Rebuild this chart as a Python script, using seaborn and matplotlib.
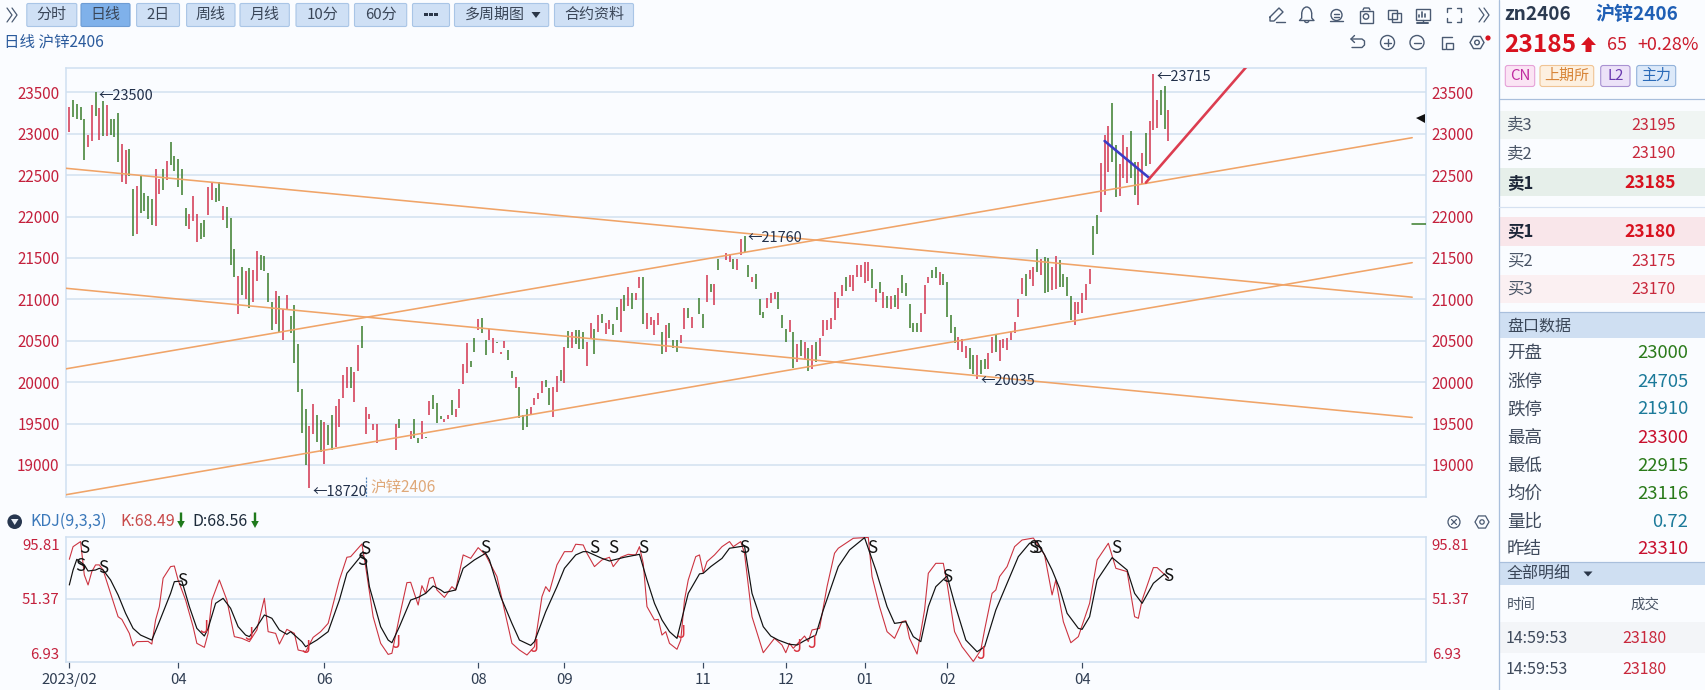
import numpy as np
import pandas as pd
import matplotlib
matplotlib.use("Agg")
import matplotlib.pyplot as plt
from matplotlib.patches import Rectangle, FancyBboxPatch, Polygon, Circle, Arc, RegularPolygon
import seaborn as sns

# ---------- daily high / low / direction ----------
bar_high = [
 23327,23407,23359,23327,23178,22985,23347,23500,23315,23395,
 23347,23178,23178,23254,22876,22803,22816,22332,22365,22489,
 22288,22248,22212,22574,22453,22574,22667,22904,22727,22695,
 22570,22107,22027,22252,22027,21918,21958,22361,22421,22349,
 22413,22127,22119,21986,21608,21282,21395,21346,21383,21354,
 21584,21535,21519,21322,20964,21101,21040,20883,21052,20795,
 20931,20457,19917,19675,19470,19736,19603,19543,19514,19482,
 19603,19708,19796,20086,20179,20179,20126,20449,20674,19696,
 19615,19494,19494,None,None,None,None,19500,19550,None,
 None,19410,19550,19330,19530,19340,19770,19850,19745,19590,
 19560,19605,19785,19680,19920,20215,20470,20260,20530,20760,
 20770,20515,20645,20530,20485,20365,20495,20390,20140,20060,
 19940,19600,19680,19700,19805,19865,20015,20030,19925,19940,
 20075,20150,20430,20620,20605,20635,20635,20605,20485,20710,
 20640,20805,20820,20710,20755,20700,20910,21010,21055,21155,
 21075,21075,21270,21270,20830,20785,20750,20830,20610,20695,
 20720,20515,20505,20575,20890,20890,20785,21010,21015,20820,
 21290,21180,21180,21485,None,21555,21545,21485,21485,21725,
 21760,21410,21275,21305,21000,20850,21020,21075,21090,21090,
 20805,20640,20745,20610,20455,20505,20490,20410,20445,20485,
 20535,20745,20745,20775,21090,21015,21170,21270,21290,21295,
 21410,21415,21445,21455,21365,21120,21210,21090,21035,21040,
 21050,21135,21290,21200,20940,20710,20710,20830,21170,21270,
 21355,21395,21335,21305,21210,20805,20670,20550,20525,20435,
 20410,20325,20330,20265,20285,20350,20550,20585,20515,20525,
 20530,20620,20730,21000,21255,21305,21350,21385,21605,21485,
 21510,21505,21385,21525,21470,21305,21275,21040,20970,20970,
 21075,21180,21365,21880,22015,22650,22985,23090,23375,22860,
 22635,22985,22835,23030,22660,22655,22770,23005,23150,23715,
 23405,23530,23570,23285]
bar_low = [
 23017,23198,23182,23166,22687,22836,22912,23210,22924,22973,
 22977,22985,22957,22655,22413,22397,22494,21765,21789,22046,
 22071,21970,21898,21882,22276,22320,22441,22622,22550,22361,
 22260,21882,21854,21946,21688,21729,21749,22019,22200,22171,
 22188,21958,21866,21415,21266,20827,21052,21004,20891,20964,
 21222,21354,21342,20964,20630,20706,20601,20509,20867,20589,
 20227,19881,19381,19003,18720,19373,19273,19160,19011,19241,
 19180,19221,19454,19813,19933,19925,19760,20134,20408,19373,
 19559,19426,19261,None,None,None,None,19185,19445,None,
 None,19315,19330,19265,19315,19330,19600,19670,19505,19550,
 19515,19560,19600,19585,19685,19975,20115,20185,20370,20625,
 20595,20325,20510,20350,20475,20345,20410,20265,20055,19930,
 19570,19420,19460,19605,19720,19800,19870,19945,19720,19585,
 19885,20020,19995,20410,20410,20455,20400,20395,20200,20520,
 20340,20610,20715,20580,20640,20565,20745,20610,20865,20925,
 20880,20990,21135,20700,20645,20685,20565,20685,20340,20370,
 20535,20410,20370,20470,20640,20775,20655,21000,20825,20650,
 20970,21090,20930,21350,None,21475,21450,21365,21350,21535,
 21575,21275,21215,21120,20805,20775,20895,20960,21000,20880,
 20650,20490,20610,20165,20245,20315,20265,20140,20155,20245,
 20315,20555,20625,20640,20745,20895,21035,21095,21150,21105,
 21265,21275,21200,21220,21140,20970,21075,20895,20895,20880,
 20910,20880,21075,21035,20650,20600,20605,20610,20820,21200,
 21255,21255,21175,21175,20790,20590,20470,20390,20370,20290,
 20155,20095,20035,20095,20155,20155,20350,20365,20260,20415,
 20385,20515,20590,20785,21060,21035,21240,21160,21335,21290,
 21080,21090,21115,21120,21155,21155,21040,20745,20690,20820,
 20840,20995,21180,21535,21790,22050,22265,22535,22655,22230,
 22250,22470,22410,22470,22265,22135,22390,22615,22640,23045,
 23065,23220,23055,22910]
bar_dir = ("RGGGGRRGRG" "RGGGRRGGRG" "GGGRRGRGGG" "GGRRRGGRRG" "GRGGGRGRGR"
           "RGGGGRGRRG" "GGGGRRGGRG" "GRRRRGRRGR" "RRR....RG." ".RGGRGRGGG"
           "RRGRRRRGGR" "GGRRGRRGGR" "GGGRRRRGGR" "RGRGRGGGRR" "GRGRRGGRGR"
           "GRRGRRRRGR" "GGGRRGRGGG" "RGRG.RRGRR" "GGRGGGRRRG" "GGRGRGRGRG"
           "RRRRRRRGRR" "RRRRGRGRGR" "GRGGGGGRRR" "GGRGGGGRRR" "GGRGGRRGRR"
           "RRRRRGRRGR" "GGRRGGGGRR" "RRRGGRRRGG" "RRRGGRRGRR" "RGGR")
price_ticks = [19000, 19500, 20000, 20500, 21000, 21500, 22000, 22500, 23000, 23500]

# trend lines: bar index and price at both ends
trend_i = [-1, 358]
trend_a = [22583, 21026]
trend_b = [21134, 19574]
trend_c = [20160, 22952]
trend_d = [18640, 21443]
blue_i, blue_p = [276, 288], [22912, 22462]
red_i, red_p = [287, 315], [22409, 23870]
price_notes = [(7, 23460, "←23500"), (180, 21745, "←21760"), (289, 23680, "←23715"),
               (64, 18670, "←18720"), (242, 20015, "←20035")]

# ---------- KDJ ----------
k_i = [0,1,3,4,5,6,7,8,9,11,13,14,16,17,18,21,22,23,24,25,27,28,29,31,33,34,36,37,38,40,42,44,46,48,50,52,53,55,56,58,
       60,61,63,65,67,69,72,74,75,78,79,81,83,85,86,88,90,91,93,94,95,96,97,98,100,102,103,105,107,109,111,114,116,118,
       120,122,124,126,127,128,130,132,134,135,137,138,140,142,144,145,147,149,151,152,153,154,156,157,158,159,160,162,
       163,164,165,167,168,169,170,172,174,176,177,179,180,182,185,188,190,191,192,193,195,196,197,198,200,202,204,205,
       207,209,213,214,216,218,220,222,223,224,226,228,229,231,233,234,236,238,241,243,244,246,247,248,250,252,254,257,
       260,261,262,263,265,267,269,272,274,277,279,282,284,285,286,289,290,293]
k_v = [84.0,94.4,98.6,71.1,62.9,73.9,79.4,79.4,75.2,56.0,36.8,34.6,23.1,12.7,16.3,16.5,14.3,34.1,45.1,68.4,78.0,78.5,67.0,50.5,28.6,14.9,11.6,23.1,50.5,67.0,
       50.5,20.4,19.0,16.3,25.9,51.9,24.5,23.1,14.3,26.4,23.1,9.4,8.0,19.8,24.5,31.3,67.0,85.7,86.2,96.6,78.0,36.8,14.9,5.8,6.7,36.8,64.8,65.1,46.4,62.3,
       56.0,68.4,69.2,58.8,52.7,61.5,58.8,87.6,84.8,93.6,87.6,69.8,42.3,14.9,9.4,5.3,12.1,53.3,61.5,57.4,79.4,90.3,90.3,96.4,95.8,89.0,78.0,83.5,85.7,78.0,
       85.7,88.1,87.6,94.4,80.7,45.1,34.1,34.6,21.7,24.5,14.9,10.0,17.6,50.5,67.0,86.2,87.6,73.0,82.1,87.6,94.4,98.6,94.4,98.6,89.0,36.8,7.2,19.0,13.5,7.2,
       14.9,10.8,17.6,20.9,16.3,25.9,27.2,61.5,89.0,93.1,97.2,101.3,102.0,69.8,45.1,24.5,19.0,32.7,33.5,19.0,6.1,42.3,72.5,80.7,80.7,64.3,24.5,12.1,0.0,9.4,
       25.9,56.0,58.8,69.8,78.0,94.4,99.9,101.5,87.6,71.1,54.7,67.0,32.7,15.4,20.4,47.8,83.5,97.2,76.6,73.9,36.8,35.5,50.5,77.2,77.2,68.49]
d_i = [0,1,2,4,5,7,8,9,11,13,15,17,19,22,24,27,28,30,32,34,36,37,39,41,43,45,47,48,50,52,54,56,58,59,62,63,66,69,72,74,
       78,79,80,83,85,86,88,91,93,95,97,99,100,103,105,108,111,112,115,118,120,123,124,127,130,132,135,137,138,141,142,144,148,152,
       154,156,158,160,162,163,165,168,169,171,174,176,180,182,185,187,189,192,194,196,199,201,205,208,212,215,218,220,223,225,
       227,229,231,234,236,239,242,244,247,250,253,256,258,260,262,264,266,269,270,272,274,278,282,284,286,289,292,293]
d_v = [62.9,75.2,84.0,79.4,74.4,75.2,76.6,75.2,67.0,54.7,39.6,27.2,21.7,17.6,32.7,56.0,65.6,66.2,45.1,27.2,20.9,27.2,47.8,51.9,43.7,28.6,21.7,20.4,28.6,38.2,35.5,25.9,22.3,24.5,16.3,12.1,17.6,24.5,50.5,72.5,
       87.6,83.5,61.5,28.6,17.6,15.4,28.6,50.5,52.7,56.0,62.1,58.8,56.6,58.8,76.6,83.5,89.0,83.5,53.3,31.3,17.6,13.2,16.3,40.9,61.5,76.6,87.6,90.3,90.3,86.2,84.8,82.6,85.7,88.1,
       67.0,47.8,34.1,24.5,19.0,31.3,56.0,72.0,72.5,78.0,84.8,93.1,95.0,56.0,28.6,20.9,17.6,14.1,13.5,17.1,21.7,42.3,78.0,91.7,101.8,75.2,45.1,31.3,32.7,20.4,
       16.3,45.1,61.5,70.3,47.8,17.6,8.0,12.1,42.3,64.3,86.2,97.2,98.6,87.6,75.2,60.1,39.6,27.2,26.4,36.8,67.0,85.4,75.2,56.0,47.8,64.3,72.0,68.56]
s_i = [4,3,9,30,79,78,111,140,145,153,180,214,234,257,258,279,293]
s_v = [93.1,78.8,76.6,66.2,92.5,83.5,93.1,93.1,93.1,93.1,93.1,93.1,69.8,93.1,93.1,93.1,70.6]
j_i = [36,48,63,87,124,163,194,198,243]
j_v = [27.2,21.7,10.8,14.9,12.1,23.1,11.6,15.4,6.1]
kdj_ticks = [6.93, 51.37, 95.81]
month_i = [0, 29, 68, 109, 132, 169, 191, 212, 234, 270]
month_labels = ["2023/02", "04", "06", "08", "09", "11", "12", "01", "02", "04"]

# ---------- side panel texts ----------
quote_labels = ["卖3", "卖2", "卖1", "买1", "买2", "买3"]
quote_values = [23195, 23190, 23185, 23180, 23175, 23170]
stat_labels = ["开盘", "涨停", "跌停", "最高", "最低", "均价", "量比", "昨结"]
stat_values = ["23000", "24705", "21910", "23300", "22915", "23116", "0.72", "23310"]
button_labels = ["分时", "日线", "2日", "周线", "月线", "10分", "60分", "•••", "多周期图", "合约资料"]

# ---------- style ----------
sns.set_theme(style="white")
plt.rcParams['font.family'] = ['Noto Sans CJK SC', 'DejaVu Sans']
BG = "#fafcff"; GRID = "#d8e5f2"; RED = "#d2304a"; GREEN = "#357a26"
ORANGE = "#f0a468"; AXRED = "#c4203c"; INK = "#22304a"
W, H = 1705, 690
pt = lambda px: px * 0.72

fig = plt.figure(figsize=(W / 100, H / 100), dpi=100, facecolor=BG)
ui = fig.add_axes([0, 0, 1, 1], zorder=0)
ui.set_xlim(0, W); ui.set_ylim(H, 0); ui.axis("off")

def pxaxes(x0, y0, x1, y1):
    a = fig.add_axes([x0 / W, 1 - y1 / H, (x1 - x0) / W, (y1 - y0) / H], zorder=1)
    a.set_facecolor("none")
    return a

def T(x, y, s, px, color=INK, ha="left", weight="normal"):
    ui.text(x, y, s, fontsize=pt(px), color=color, ha=ha, va="center", fontweight=weight)

def box(x0, y0, x1, y1, fc, ec="none", r=0):
    if r:
        ui.add_patch(FancyBboxPatch((x0, y0), x1 - x0, y1 - y0, boxstyle=f"round,pad=0,rounding_size={r}",
                                    fc=fc, ec=ec, lw=0.8))
    else:
        ui.add_patch(Rectangle((x0, y0), x1 - x0, y1 - y0, fc=fc, ec=ec, lw=0))

def P(xs, ys, color="#4a5a72", lw=1.0):
    ui.plot(xs, ys, color=color, lw=lw, solid_capstyle="round")

def chevrons(x, y, color="#4a5a72"):
    for dx in (0, 5):
        P([x - 4 + dx, x + 1 + dx, x - 4 + dx], [y - 7, y, y + 7], color, 0.9)

# ---------- price panel ----------
ax = pxaxes(65.6, 67.7, 1425.7, 496.7)
ax.set_xlim(-0.99, 361.6); ax.set_ylim(18617, 23797)
idx = np.arange(len(bar_high))
df = pd.DataFrame({"i": idx, "high": bar_high, "low": bar_low, "dir": list(bar_dir)}).dropna()
for code, col in (("R", RED), ("G", GREEN)):
    sub = df[df["dir"] == code]
    ax.vlines(sub["i"], sub["low"], sub["high"], color=col, lw=pt(1.5), zorder=3)
for vals in (trend_a, trend_b, trend_c, trend_d):
    sns.lineplot(x=trend_i, y=vals, color=ORANGE, lw=pt(1.6), ax=ax, errorbar=None, zorder=4)
sns.lineplot(x=blue_i, y=blue_p, color="#3c3cc4", lw=pt(2.6), ax=ax, errorbar=None, zorder=5)
sns.lineplot(x=red_i, y=red_p, color="#dc3d50", lw=pt(2.6), ax=ax, errorbar=None, zorder=5)
for i, p, s in price_notes:
    ax.text(i + 0.9, p, s, fontsize=pt(14.5), color=INK, va="center", ha="left", zorder=6)
ax.text(80.3, 18720, "沪锌2406", fontsize=pt(15.5), color="#dfa878", va="center", ha="left", zorder=6)
ax.vlines(79.1, 18617, 18860, color="#5a8ac0", lw=pt(1.2), linestyles=(0, (2, 1)), zorder=6)
ax.plot([358, 361.6], [21910, 21910], color=GREEN, lw=pt(1.5), zorder=4)
ax.plot([360.0], [23185], marker="<", ms=pt(9), color="#111111", mew=0, zorder=6)
ax.set_xticks([]); ax.set_yticks(price_ticks)
ax.grid(axis="y", color=GRID, lw=pt(1.8), zorder=1)
ax.set_axisbelow(True)
ax.tick_params(axis="y", length=0, pad=pt(6), labelsize=pt(15.2), labelcolor=AXRED, left=False, right=False,
               labelleft=True, labelright=True)
for sp in ax.spines.values():
    sp.set_color("#cfe0f1"); sp.set_linewidth(pt(1.5)); sp.set_visible(True)
ax.set_xlabel(""); ax.set_ylabel("")

# ---------- KDJ panel ----------
kx = pxaxes(65.6, 536.7, 1425.7, 662.3)
kx.set_xlim(-0.99, 361.6); kx.set_ylim(-0.7, 102.6)
kx.axhline(51.37, color=GRID, lw=pt(1.8), zorder=1)
sns.lineplot(x=k_i, y=k_v, color="#cc3340", lw=pt(1.1), ax=kx, errorbar=None, sort=False, zorder=3)
sns.lineplot(x=d_i, y=d_v, color="#111111", lw=pt(1.2), ax=kx, errorbar=None, sort=False, zorder=4)
for i, v in zip(s_i, s_v):
    kx.text(i, v, "S", fontsize=pt(17), color="#111111", ha="center", va="center", zorder=5)
for i, v in zip(j_i, j_v):
    kx.text(i, v, "J", fontsize=pt(17), color="#d8323f", ha="center", va="center", zorder=5)
kx.set_xticks(month_i); kx.set_xticklabels(month_labels)
kx.set_yticks(kdj_ticks)
kx.set_yticklabels([f"{t:.2f}" for t in kdj_ticks])
kx.tick_params(axis="x", length=5.5 * 0.72, width=pt(1.2), color="#3a4a60", pad=pt(5), labelsize=pt(15),
               labelcolor="#2f3d52", bottom=True)
kx.tick_params(axis="y", length=0, pad=pt(6), labelsize=pt(15), labelcolor=AXRED, left=False, right=False,
               labelleft=True, labelright=True)
for sp in kx.spines.values():
    sp.set_color("#cfe0f1"); sp.set_linewidth(pt(1.5)); sp.set_visible(True)
kx.set_xlabel(""); kx.set_ylabel("")

# ---------- top toolbar ----------
chevrons(11, 15)
btn_x = [(26.8, 76.8), (81, 130), (136.6, 179.5), (186.6, 235), (240, 289.3), (296, 348.7),
         (354.5, 406.7), (412.5, 449.5), (454.5, 548.7), (554.5, 633.5)]
for k, ((x0, x1), lab) in enumerate(zip(btn_x, button_labels)):
    active = lab == "日线"
    box(x0, 3.5, x1, 26.5, "#7fb1ea" if active else "#cfe0f5", "#6d9cd4" if active else "#a9c5e6", r=1.5)
    if lab == "多周期图":
        T(x0 + 10, 15, lab, 15, "#3a4658")
        ui.add_patch(Polygon([(x0 + 77, 12), (x0 + 86, 12), (x0 + 81.5, 18)], fc="#2a3648", ec="none"))
    elif lab == "•••":
        for dx in (-5, 0, 5):
            ui.add_patch(Rectangle(((x0 + x1) / 2 + dx - 1.7, 13), 3.4, 3.4, fc="#2a3648", ec="none"))
    else:
        T((x0 + x1) / 2, 15, lab, 15, "#3a4658", ha="center")
T(4, 42.5, "日线 沪锌2406", 15.5, "#2a5a9c")

# toolbar icons
icon = "#4a5a72"
# pencil
P([1270, 1279, 1283, 1274, 1270, 1270], [17, 8, 12, 21, 21, 17], icon)
P([1276, 1285], [22, 22], icon)
# bell
ui.add_patch(Arc((1306.7, 14), 10, 14, theta1=180, theta2=360, ec=icon, lw=1.0))
P([1301.7, 1301.7, 1299.5, 1314, 1311.7, 1311.7], [14, 18, 20.5, 20.5, 18, 14], icon)
ui.add_patch(Arc((1306.7, 21), 4, 3, theta1=0, theta2=180, ec=icon, lw=1.0))
# cloud
ui.add_patch(Circle((1336.5, 15), 5.5, fc="none", ec=icon, lw=1.0))
P([1330, 1343], [20.5, 20.5], icon)
P([1334, 1339], [14, 14], icon); P([1334, 1339], [17, 17], icon)
# camera
ui.add_patch(Rectangle((1359.5, 10.5), 13, 12, fc="none", ec=icon, lw=1.0))
P([1363, 1364, 1369, 1370], [10, 8, 8, 10], icon)
ui.add_patch(Circle((1366, 16.5), 2.7, fc="none", ec=icon, lw=1.0))
# copy
ui.add_patch(Rectangle((1387.5, 9.5), 9, 9, fc="none", ec=icon, lw=1.0))
ui.add_patch(Rectangle((1391.5, 12.5), 9, 9, fc="none", ec=icon, lw=1.0))
# monitor
ui.add_patch(Rectangle((1415.5, 8.5), 14, 11, fc="none", ec=icon, lw=1.0))
P([1419, 1419], [17, 15], icon, 1.2); P([1422, 1422], [17, 12], icon, 1.2); P([1425, 1425], [17, 14], icon, 1.2)
P([1422.5, 1422.5], [19.5, 22], icon); P([1417, 1428], [22.5, 22.5], icon, 1.4)
# full screen
for sx, sy in ((-1, -1), (1, -1), (-1, 1), (1, 1)):
    P([1454 + sx * 7, 1454 + sx * 7, 1454 + sx * 3], [15 + sy * 3, 15 + sy * 7, 15 + sy * 7], icon)
chevrons(1483, 15)
# second row: undo, plus, minus, layers, hexagon
P([1351, 1362, 1364.5, 1364.5, 1362, 1352], [39, 39, 41, 45, 47.5, 47.5], icon)
P([1354.5, 1351, 1354.5], [35.5, 39, 42.5], icon)
for x in (1387.5, 1417):
    ui.add_patch(Circle((x, 42.5), 7, fc="none", ec=icon, lw=1.0))
    P([x - 3.5, x + 3.5], [42.5, 42.5], icon)
P([1387.5, 1387.5], [39, 46], icon)
P([1452, 1441.5, 1441.5, 1445], [36.5, 36.5, 48.5, 48.5], icon)
ui.add_patch(Rectangle((1446, 42.5), 7, 6, fc="none", ec=icon, lw=1.0))
ui.add_patch(RegularPolygon((1477, 42.5), 6, radius=7, orientation=np.pi / 6, fc="none", ec=icon, lw=1.0))
ui.add_patch(Circle((1477, 42.5), 2.3, fc="none", ec=icon, lw=1.0))
ui.add_patch(Circle((1488, 38), 2.6, fc="#d8121f", ec="none"))

# KDJ header
ui.add_patch(Circle((14.7, 521.7), 7.3, fc="#27364f", ec="none"))
ui.add_patch(Polygon([(11, 519), (18.5, 519), (14.7, 525)], fc="#e8eef6", ec="none"))
T(30.7, 521.7, "KDJ(9,3,3)", 16, "#3a78ba")
T(120.7, 521.7, "K:68.49", 16, "#c84a4a")
T(192.7, 521.7, "D:68.56", 16, "#1c2a3a")
for x in (181, 255):
    ui.add_patch(Polygon([(x - 1.2, 512.5), (x + 1.2, 512.5), (x + 1.2, 521), (x + 3.8, 521), (x, 528),
                          (x - 3.8, 521), (x - 1.2, 521)], fc="#1f7a1c", ec="none"))
ui.add_patch(Circle((1454, 522), 6, fc="none", ec=icon, lw=0.9))
P([1451.5, 1456.5], [519.5, 524.5], icon, 0.9); P([1451.5, 1456.5], [524.5, 519.5], icon, 0.9)
ui.add_patch(RegularPolygon((1482, 522), 6, radius=7, orientation=np.pi / 6, fc="none", ec=icon, lw=0.9))
ui.add_patch(Circle((1482, 522), 2.2, fc="none", ec=icon, lw=0.9))

# ---------- right panel ----------
ui.plot([1498.7, 1498.7], [0, H], color="#a9bfdc", lw=pt(1.3))
T(1504, 15, "zn2406", 19, "#2b3a50", weight="bold")
T(1595, 15, "沪锌2406", 19, "#1f5fb5", weight="bold")
T(1504, 45, "23185", 24.5, "#d8121f", weight="bold")
ui.add_patch(Polygon([(1588.5, 37), (1596, 45), (1591.5, 45), (1591.5, 52), (1585.5, 52), (1585.5, 45), (1581, 45)],
                     fc="#d8121f", ec="none"))
T(1607.5, 45, "65", 18, "#cc1c2c")
T(1637.5, 45, "+0.28%", 18, "#cc1c2c")
tags = [(1505.3, 1534.7, "CN", "#fbe4f4", "#e6a2d8", "#c02aa0"),
        (1540, 1593.7, "上期所", "#fdf0e0", "#f0c494", "#d8863a"),
        (1600.7, 1630, "L2", "#ece2f8", "#a992d2", "#6a3ab0"),
        (1636.7, 1675.7, "主力", "#dce9f9", "#92b2da", "#2a6ab8")]
for x0, x1, s, fc, ec, tc in tags:
    box(x0, 65.5, x1, 86.5, fc, ec, r=2.5)
    T((x0 + x1) / 2, 76, s, 15, tc, ha="center")
ui.plot([1499, W], [99.3, 99.3], color="#a9bfdc", lw=pt(1.2))
quote_y = [125, 154, 182.7, 231.7, 261, 289.3]
quote_bg = [(110.7, 139, "#f0f5f3"), (168.3, 196, "#e6efea"), (217.3, 246, "#f9e6ea"), (275, 302.7, "#fbf0f2")]
for y0, y1, c in quote_bg:
    box(1499.5, y0, W, y1, c)
ui.plot([1499, W], [206.7, 206.7], color="#d5e1f1", lw=pt(1.2))
for lab, val, y in zip(quote_labels, quote_values, quote_y):
    strong = lab.endswith("1")
    T(1507, y, lab, 16.5, "#1c2638" if strong else "#4a5566", weight="bold" if strong else "normal")
    T(1675.7, y, str(val), 17.5 if strong else 16, "#d8121f" if strong else "#c8283c", ha="right",
      weight="bold" if strong else "normal")
box(1499.5, 312.3, W, 338.3, "#cfdff2")
ui.plot([1499, W], [312.3, 312.3], color="#a9bfdc", lw=pt(1.2))
T(1507, 326, "盘口数据", 16, "#3a4658")
stat_y = [353.3, 381.7, 409.3, 437.7, 465.7, 494, 521.7, 549]
stat_col = ["#2a7a1a", "#1c7a9a", "#1c7a9a", "#c8102e", "#2a7a1a", "#2a7a1a", "#1c7a9a", "#c8102e"]
for lab, val, y, c in zip(stat_labels, stat_values, stat_y, stat_col):
    T(1507, y, lab, 17.5, "#3f4a5c")
    T(1688.3, y, val, 18.5, c, ha="right")
box(1499.5, 561.7, W, 585, "#cfdff2")
ui.plot([1499, W], [561.7, 561.7], color="#a9bfdc", lw=pt(1.2))
T(1507, 574, "全部明细", 16, "#3a4658")
ui.add_patch(Polygon([(1583.5, 571.5), (1592.5, 571.5), (1588, 576.5)], fc="#2a3648", ec="none"))
T(1507, 605, "时间", 14.5, "#4a5566")
T(1630, 605, "成交", 14.5, "#4a5566")
box(1499.5, 621.7, W, 653, "#f3f5f8")
for y in (638.3, 670):
    T(1505.3, y, "14:59:53", 16, "#3f4a5c")
    T(1622.7, y, "23180", 16, "#c8283c")

fig.savefig("out.png", dpi=100, facecolor=BG)
